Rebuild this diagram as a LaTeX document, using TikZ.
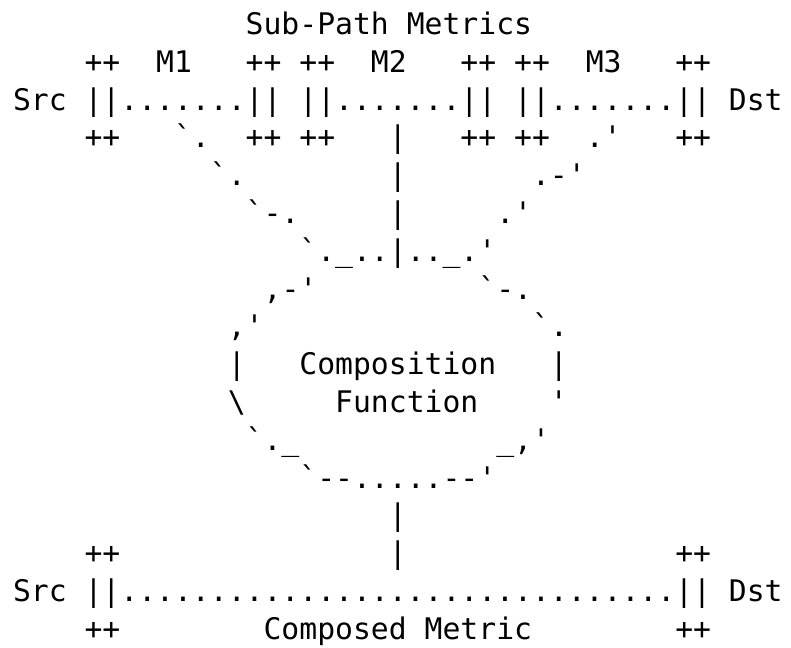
\documentclass[tikz,border=0pt]{standalone}
\usepackage{fontspec}
\setmonofont{DejaVu Sans Mono}
\newlength\colw
\setlength\colw{17.9pt}
\newcommand\gap[1]{\hspace*{#1\colw}}

\begin{document}
\begin{tikzpicture}[
  x=1pt,y=1pt,
  ascii/.style={anchor=base west, inner sep=0pt, outer sep=0pt, font=\ttfamily\fontsize{29.73}{37.8}\selectfont}
]
\def\cw{17.9}
\def\lh{37.8}
\def\yz{612.5}
\useasboundingbox (0,0) rectangle (791,647);

% top: sub-path metrics
\node[ascii] (title) at ({13+13*\cw},{\yz}) {Sub-Path Metrics};
\node[ascii] (marks) at ({13+4*\cw},{\yz-\lh}) {++\gap2M1\gap3++\gap1++\gap2M2\gap3++\gap1++\gap2M3\gap3++};
\node[ascii] (subpath) at ({13},{\yz-2*\lh}) {Src\gap1||.......||\gap1||.......||\gap1||.......||\gap1Dst};
\node[ascii] (feeds) at ({13+4*\cw},{\yz-3*\lh}) {++\gap3`.\gap2++\gap1++\gap3|\gap3++\gap1++\gap2.'\gap3++};

% funnel into the function
\node[ascii] (funnela) at ({13+11*\cw},{\yz-4*\lh}) {`.\gap8|\gap7.-'};
\node[ascii] (funnelb) at ({13+13*\cw},{\yz-5*\lh}) {`-.\gap5|\gap5.'};
\node[ascii] (funnelc) at ({13+16*\cw},{\yz-6*\lh}) {`.\_..|..\_.'};

% composition function blob
\node[ascii] (blobtop) at ({13+14*\cw},{\yz-7*\lh}) {,-'\gap9`-.};
\node[ascii] (blobup) at ({13+12*\cw},{\yz-8*\lh}) {,'\gap{15}`.};
\node[ascii] (blobmid) at ({13+12*\cw},{\yz-9*\lh}) {|\gap3Composition\gap3|};
\node[ascii] (bloblow) at ({13+12*\cw},{\yz-10*\lh}) {\textbackslash\gap5Function\gap4'};
\node[ascii] (blobdown) at ({13+13*\cw},{\yz-11*\lh}) {`.\_\gap{11}\_,'};
\node[ascii] (blobbot) at ({13+16*\cw},{\yz-12*\lh}) {`--.....--'};

% bottom: composed metric
\node[ascii] (stem) at ({13+21*\cw},{\yz-13*\lh}) {|};
\node[ascii] (ends) at ({13+4*\cw},{\yz-14*\lh}) {++\gap{15}|\gap{15}++};
\node[ascii] (whole) at ({13},{\yz-15*\lh}) {Src\gap1||...............................||\gap1Dst};
\node[ascii] (result) at ({13+4*\cw},{\yz-16*\lh}) {++\gap8Composed Metric\gap8++};

\end{tikzpicture}
\end{document}
